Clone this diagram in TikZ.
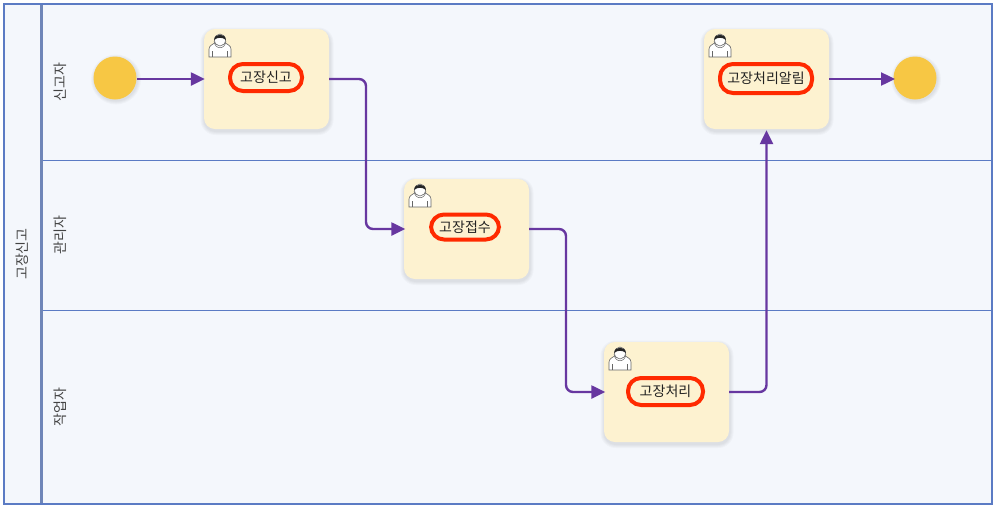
\documentclass[tikz,border=0pt]{standalone}
\usepackage{fontspec}
\setmainfont{Noto Sans CJK KR}
\usetikzlibrary{arrows.meta}
\definecolor{laneblue}{HTML}{5B7BC4}
\definecolor{lanefill}{HTML}{F4F7FC}
\definecolor{divcol}{HTML}{6F86B8}
\definecolor{flowcol}{HTML}{6737A0}
\definecolor{taskfill}{HTML}{FDF2D0}
\definecolor{evfill}{HTML}{F7C744}
\definecolor{pillred}{HTML}{FF2A00}
\definecolor{txt}{HTML}{222222}
\tikzset{
  x=1pt,y=-1pt,
  lanetext/.style={rotate=90,font=\fontsize{14}{16}\selectfont,text=txt!85!white,inner sep=0pt},
  taskbox/.style={draw=none,fill=taskfill,rounded corners=11pt,minimum width=125pt,minimum height=100pt,inner sep=0pt},
  eventdot/.style={circle,fill=evfill,draw=none,minimum size=43pt,inner sep=0pt},
  pill/.style={draw=pillred,line width=4pt,rounded corners=13pt,fill=taskfill,inner sep=0pt,text=txt,font=\fontsize{14}{16}\selectfont},
  flow/.style={draw=flowcol,line width=2.4pt,rounded corners=7pt,-{Triangle[length=14pt,width=13pt]}},
  usershape/.pic={
    \path[fill=white,draw=black!60,line width=.6pt] (-11,11) -- (-11,3) .. controls (-11,-1) and (-6,-2) .. (-4,-4) -- (4,-4) .. controls (6,-2) and (11,-1) .. (11,3) -- (11,11) -- cycle;
    \path[fill=white,draw=black!60,line width=.5pt] (-6,-5) .. controls (-5,4) and (5,4) .. (6,-5);
    \path[fill=white,draw=black!70,line width=.5pt] (0,-6) circle[x radius=5.5pt,y radius=6pt];
    \path[fill=black!85] (-5.8,-6) .. controls (-6,-13) and (6,-13) .. (5.8,-6) .. controls (3,-9) and (-3,-9) .. (-5.8,-6) -- cycle;
    \draw[black!60,line width=.5pt] (-7.5,11) -- (-7.5,5) (7.5,11) -- (7.5,5);
  }
}
\newcommand{\softshadow}[5]{%
  \foreach \g in {4,3,2,1}{%
    \fill[black,opacity=.022,rounded corners=#5+\g*1pt] (#1-\g+.5,#2-\g+2.5) rectangle (#3+\g+.5,#4+\g+2);}}
\begin{document}
\begin{tikzpicture}
\useasboundingbox (0,0) rectangle (996,507);
\fill[white] (0,0) rectangle (996,507);
\fill[lanefill] (4,4) rectangle (992,504);
\draw[laneblue,line width=1pt] (42,160) -- (992,160) (42,310) -- (992,310);
\draw[divcol,line width=2.2pt] (41.5,4) -- (41.5,504);
\draw[laneblue,line width=1.8pt] (4,4) rectangle (992,504);
\node[lanetext] (pool) at (22,254) {고장신고};
\node[lanetext] (l1) at (60,82) {신고자};
\node[lanetext] (l2) at (60,235) {관리자};
\node[lanetext] (l3) at (60,407) {작업자};

\softshadow{204}{29}{329}{129}{11pt}
\softshadow{404}{179}{529}{279}{11pt}
\softshadow{604}{342}{729}{442}{11pt}
\softshadow{704}{29}{829}{129}{11pt}
\foreach \c in {116,916}{\foreach \g in {4,3,2,1}{\fill[black,opacity=.025] (\c,79.5) circle[radius=21pt+\g*1pt];}}

\node[eventdot] (start) at (115,78) {};
\node[eventdot] (end) at (915,78) {};
\node[taskbox] (t1) at (266.5,79) {};
\node[taskbox] (t2) at (466.5,229) {};
\node[taskbox] (t3) at (666.5,392) {};
\node[taskbox] (t4) at (766.5,79) {};

\node[pill,minimum width=72pt,minimum height=27pt] (p1) at (266,77.5) {고장신고};
\node[pill,minimum width=68pt,minimum height=25pt] (p2) at (465,227) {고장접수};
\node[pill,minimum width=75pt,minimum height=27pt] (p3) at (665.5,391.5) {고장처리};
\node[pill,minimum width=92pt,minimum height=29pt] (p4) at (766,78.5) {고장처리알림};

\pic at (220,46) {usershape};
\pic at (420,196) {usershape};
\pic at (620,359) {usershape};
\pic at (720,46) {usershape};

\draw[flow] (137,79) -- ([xshift=1pt]t1.west |- 0,79);
\draw[flow] (t1.east) -| (366,150) |- ([xshift=1.5pt]t2.west);
\draw[flow] (t2.east) -| (566,300) |- ([xshift=1.5pt]t3.west);
\draw[flow] (t3.east) -| ([yshift=-1pt]t4.south);
\draw[flow] (t4.east) -- (895,79);
\end{tikzpicture}
\end{document}
